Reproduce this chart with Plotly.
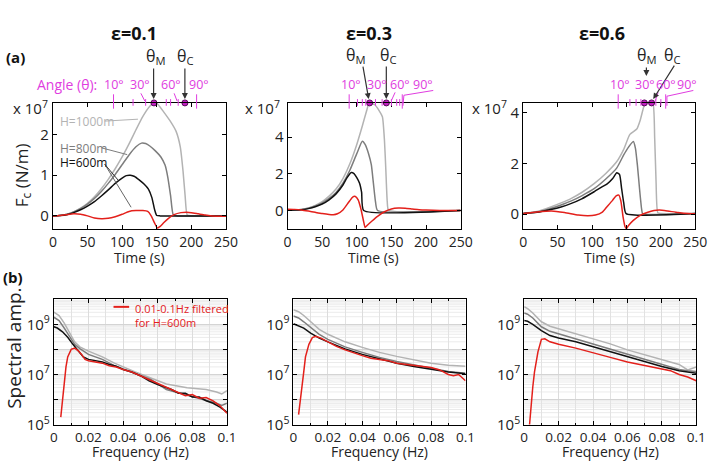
import plotly.graph_objects as go

W, H = 720, 470
def px(x): return x / W
def py(y): return 1 - y / H

FONT = "Open Sans"
LIGHT, MID, BLACK, RED = "#b3b3b3", "#7d7d7d", "#111111", "#e3201b"
MAG = "#e03ce0"

# ---------------- data: (a) force time series, units of 1e7 N/m ----------------
# eps = 0.1
a1_t_1000 = [0,10,20,30,40,50,60,70,80,90,100,110,120,130,140,146,152,160,170,178,184,188,191,194,200,250]
a1_v_1000 = [0,0.01,0.04,0.1,0.19,0.31,0.47,0.67,0.9,1.16,1.45,1.77,2.12,2.45,2.7,2.78,2.74,2.56,2.32,2.08,1.7,1.1,0.5,0.02,0,0]
a1_t_800 = [0,10,20,30,40,50,60,70,80,90,100,110,120,128,134,140,148,156,162,166,170,174,180,250]
a1_v_800 = [0,0.01,0.04,0.1,0.18,0.29,0.43,0.6,0.8,1.02,1.26,1.5,1.7,1.79,1.78,1.72,1.6,1.45,1.25,0.95,0.5,0.02,0,0]
a1_t_600 = [0,10,20,30,40,50,60,70,80,90,100,106,112,118,125,132,138,143,147,150,155,250]
a1_v_600 = [0,0.01,0.03,0.08,0.15,0.24,0.35,0.49,0.64,0.8,0.93,0.99,1.0,0.97,0.88,0.78,0.66,0.45,0.15,0.01,0,0]
a1_t_filt = [0,10,20,30,40,50,60,70,80,90,100,110,120,130,137,142,147,151,155,160,167,175,185,193,200,210,220,230,240,250]
a1_v_filt = [0,0.01,0.03,0.05,0.04,0.0,-0.05,-0.07,-0.06,-0.02,0.04,0.11,0.13,0.13,0.11,0.0,-0.18,-0.3,-0.26,-0.17,-0.06,0.03,0.08,0.09,0.08,0.05,0.02,0.0,-0.01,-0.01]
# eps = 0.3
a2_t_1000 = [0,10,20,30,40,50,60,70,80,90,100,108,114,118,126,132,137,140,142,144,146,250]
a2_v_1000 = [0.03,0.04,0.08,0.16,0.3,0.5,0.8,1.18,1.75,2.55,3.6,4.6,5.4,5.85,5.75,5.45,5.1,3.8,2.2,0.5,0.03,0.03]
a2_t_800 = [0,10,20,30,40,50,60,70,80,90,100,108,112,117,121,124,127,130,250]
a2_v_800 = [0.03,0.04,0.07,0.14,0.26,0.43,0.68,1.0,1.5,2.2,3.1,3.77,3.6,3.1,2.5,1.5,0.5,0.02,0.02]
a2_t_600 = [0,10,20,30,40,50,60,70,80,86,92,96,100,104,107,110,250]
a2_v_600 = [0.03,0.04,0.06,0.12,0.22,0.37,0.6,0.92,1.4,1.8,2.08,2.02,1.8,1.5,1.0,0.02,0.02]
a2_t_filt = [0,10,20,30,40,50,60,66,72,80,88,94,98,102,106,110,112,116,122,130,140,150,160,170,180,190,200,220,250]
a2_v_filt = [0.09,0.08,0.05,-0.01,-0.08,-0.15,-0.2,-0.21,-0.16,0.05,0.45,0.75,0.78,0.6,0.1,-0.6,-0.9,-0.75,-0.55,-0.3,-0.05,0.1,0.15,0.14,0.1,0.06,0.04,0.02,0.02]
# eps = 0.6
a3_t_1000 = [0,20,40,55,70,85,103,120,136,146,155,165,170,176,180,188,191,193,195.5,200,250]
a3_v_1000 = [0.02,0.1,0.28,0.44,0.62,0.85,1.2,1.6,2.07,2.55,3.14,3.35,3.7,4.3,4.45,4.45,3.0,1.3,0.05,0.02,0.02]
a3_t_800 = [0,20,40,55,70,85,103,120,136,146,152,160,163,166,169,172,173.5,250]
a3_v_800 = [0.02,0.08,0.22,0.36,0.52,0.72,1.0,1.38,1.82,2.33,2.6,2.86,2.6,1.9,1.0,0.2,0.02,0.02]
a3_t_600 = [0,20,40,55,70,85,103,115,122,130,136,140,143,146,149.5,250]
a3_v_600 = [0.02,0.07,0.18,0.28,0.42,0.6,0.88,1.08,1.19,1.4,1.63,1.55,1.0,0.45,0.02,0.02]
a3_t_filt = [0,20,41,60,80,94,105,115,122,130,135,139,142,145,148,150,153,160,170,180,190,198,210,225,240,250]
a3_v_filt = [0.02,0.08,0.12,0.06,-0.04,-0.07,-0.04,0.08,0.3,0.55,0.72,0.75,0.5,-0.1,-0.5,-0.57,-0.45,-0.25,-0.05,0.06,0.14,0.16,0.12,0.06,0.02,0.01]

# angle markers (time of theta_M, theta_C) and angle-scale tick times
theta_m = [146, 118.6, 176]
theta_c = [190.7, 142.7, 186.5]
ang_long = [[87.6, 207.6], [89, 165.7], [138, 207]]
ang_short = [[115.8, 134, 163.8, 170, 181], [101, 108, 113, 127, 136.6, 150, 157.7, 162], [155, 164, 171, 192.7, 200]]

# ---------------- data: (b) spectra, log10 amplitude ----------------
b1_f = [0,0.003,0.006,0.009,0.012,0.015,0.02,0.028,0.035,0.047,0.056,0.065,0.077,0.088,0.094,0.097,0.1]
b1_1000 = [9.48,9.35,9.05,8.65,8.3,8.1,7.93,7.7,7.45,7.1,6.85,6.62,6.47,6.4,6.3,6.22,6.35]
b1_800 = [9.28,9.15,8.85,8.5,8.2,8.03,7.8,7.6,7.35,7.04,6.8,6.4,6.18,5.98,5.85,5.76,5.85]
b1_f600 = [0,0.002,0.005,0.008,0.011,0.014,0.017,0.02,0.024,0.028,0.032,0.036,0.04,0.045,0.05,0.055,0.06,0.064,0.068,0.072,0.076,0.08,0.084,0.088,0.092,0.096,0.1]
b1_600 = [8.9,8.85,8.7,8.48,8.2,7.95,7.7,7.6,7.55,7.5,7.4,7.33,7.2,7.1,6.95,6.75,6.6,6.5,6.4,6.25,6.25,6.1,6.1,5.95,5.85,5.7,5.5]
b1_ff = [0.004,0.005,0.006,0.007,0.008,0.01,0.012,0.014,0.016,0.018,0.02,0.024,0.028,0.032,0.036,0.04,0.045,0.05,0.055,0.06,0.064,0.068,0.072,0.076,0.08,0.084,0.088,0.092,0.096,0.1]
b1_filt = [5.3,6.0,6.7,7.3,7.7,8.0,8.05,7.95,7.8,7.6,7.55,7.5,7.45,7.35,7.3,7.2,7.1,6.95,6.8,6.62,6.5,6.38,6.28,6.15,6.2,6.05,6.08,5.95,5.75,5.45]

b2_f = [0,0.003,0.006,0.01,0.015,0.02,0.03,0.04,0.05,0.06,0.07,0.08,0.09,0.1]
b2_1000 = [9.58,9.5,9.35,9.1,8.8,8.6,8.3,8.08,7.88,7.72,7.57,7.45,7.37,7.33]
b2_800 = [9.33,9.25,9.1,8.87,8.6,8.4,8.1,7.88,7.68,7.52,7.37,7.25,7.12,7.05]
b2_600 = [9.02,8.95,8.85,8.65,8.45,8.3,8.02,7.8,7.62,7.45,7.32,7.2,7.1,7.03]
b2_ff = [0.003,0.004,0.005,0.006,0.007,0.009,0.011,0.013,0.016,0.02,0.025,0.03,0.035,0.04,0.045,0.05,0.055,0.06,0.065,0.07,0.075,0.08,0.085,0.09,0.093,0.096,0.1]
b2_filt = [5.4,5.9,6.5,7.1,7.7,8.2,8.47,8.52,8.45,8.3,8.12,7.98,7.85,7.75,7.65,7.6,7.55,7.45,7.4,7.35,7.3,7.28,7.18,7.0,6.95,7.0,6.75]

b3_f = [0,0.002,0.005,0.01,0.015,0.02,0.03,0.04,0.05,0.06,0.07,0.08,0.09,0.095,0.1]
b3_1000 = [9.7,9.62,9.45,9.1,8.92,8.82,8.62,8.45,8.22,7.98,7.78,7.6,7.4,7.18,7.3]
b3_800 = [9.45,9.4,9.25,8.9,8.72,8.62,8.42,8.22,8.0,7.8,7.6,7.42,7.2,7.15,7.12]
b3_600 = [9.15,9.12,9.0,8.75,8.55,8.45,8.3,8.1,7.9,7.7,7.5,7.32,7.15,7.1,7.05]
b3_ff = [0.003,0.004,0.005,0.006,0.008,0.01,0.012,0.015,0.02,0.03,0.04,0.05,0.06,0.07,0.08,0.085,0.09,0.095,0.1]
b3_filt = [4.9,5.8,6.5,7.1,7.9,8.4,8.42,8.3,8.2,8.05,7.88,7.68,7.5,7.35,7.22,7.15,7.0,6.9,6.75]

top_titles = ["ε=0.1", "ε=0.3", "ε=0.6"]
top_yranges = [[-0.33, 2.78], [-1.0, 5.85], [-0.6, 4.38]]
top_yticks = [[0, 1, 2], [0, 2, 4], [0, 2, 4]]
time_ticks = [0, 50, 100, 150, 200, 250]
freq_ticks = [0, 0.02, 0.04, 0.06, 0.08, 0.1]
freq_ticktext = ["0", "0.02", "0.04", "0.06", "0.08", "0.1"]

# ---------------- layout geometry (pixels) ----------------
top_x = [(50, 227), (290, 467), (531, 707)]
top_y = (96, 228)
bot_x = [(51, 228), (296, 472), (532, 708)]
bot_y = (301, 432)

fig = go.Figure()

def line(x, y, color, xa, ya, w=1.5, shape="spline"):
    fig.add_trace(go.Scatter(x=x, y=y, mode="lines", xaxis=xa, yaxis=ya,
                             line=dict(color=color, width=w, shape=shape, smoothing=0.5),
                             showlegend=False, hoverinfo="skip"))

tops = [
    (a1_t_1000, a1_v_1000, a1_t_800, a1_v_800, a1_t_600, a1_v_600, a1_t_filt, a1_v_filt),
    (a2_t_1000, a2_v_1000, a2_t_800, a2_v_800, a2_t_600, a2_v_600, a2_t_filt, a2_v_filt),
    (a3_t_1000, a3_v_1000, a3_t_800, a3_v_800, a3_t_600, a3_v_600, a3_t_filt, a3_v_filt),
]
for i, d in enumerate(tops):
    xa, ya = ("x" if i == 0 else f"x{i+1}"), ("y" if i == 0 else f"y{i+1}")
    line(d[0], d[1], LIGHT, xa, ya)
    line(d[2], d[3], MID, xa, ya)
    line(d[4], d[5], BLACK, xa, ya)
    line(d[6], d[7], RED, xa, ya)
    ytop = top_yranges[i][1]
    fig.add_trace(go.Scatter(x=[theta_m[i], theta_c[i]], y=[ytop, ytop], mode="markers",
                             xaxis=xa, yaxis=ya, cliponaxis=False,
                             marker=dict(size=6, color="#c21fc2", line=dict(color="#5a0a5a", width=1)),
                             showlegend=False, hoverinfo="skip"))

bots = [
    (b1_f, b1_1000, b1_f, b1_800, b1_f600, b1_600, b1_ff, b1_filt),
    (b2_f, b2_1000, b2_f, b2_800, b2_f, b2_600, b2_ff, b2_filt),
    (b3_f, b3_1000, b3_f, b3_800, b3_f, b3_600, b3_ff, b3_filt),
]
for i, d in enumerate(bots):
    xa, ya = f"x{i+4}", f"y{i+4}"
    line(d[0], [10 ** v for v in d[1]], LIGHT, xa, ya, shape="linear")
    line(d[2], [10 ** v for v in d[3]], MID, xa, ya, shape="linear")
    line(d[4], [10 ** v for v in d[5]], BLACK, xa, ya, shape="linear")
    line(d[6], [10 ** v for v in d[7]], RED, xa, ya, shape="linear")

axis_common = dict(showline=True, linecolor="black", linewidth=1, mirror="ticks", ticks="inside",
                   ticklen=4, tickcolor="black", zeroline=False,
                   tickfont=dict(size=15, family=FONT, color="#222"))
lay = {}
for i in range(3):
    xk = "xaxis" if i == 0 else f"xaxis{i+1}"
    yk = "yaxis" if i == 0 else f"yaxis{i+1}"
    xa = "x" if i == 0 else f"x{i+1}"
    ya = "y" if i == 0 else f"y{i+1}"
    lay[xk] = dict(axis_common, domain=[px(top_x[i][0]), px(top_x[i][1])], anchor=ya,
                   range=[0, 250], tickvals=time_ticks, showgrid=False,
                   tickfont=dict(size=14, family=FONT, color="#222"))
    lay[yk] = dict(axis_common, domain=[py(top_y[1]), py(top_y[0])], anchor=xa,
                   range=top_yranges[i], tickvals=top_yticks[i], showgrid=False)
    xk2, yk2 = f"xaxis{i+4}", f"yaxis{i+4}"
    lay[xk2] = dict(axis_common, domain=[px(bot_x[i][0]), px(bot_x[i][1])], anchor=f"y{i+4}",
                    range=[0, 0.1], tickvals=freq_ticks, ticktext=freq_ticktext,
                    tickfont=dict(size=13.5, family=FONT, color="#222"),
                    showgrid=True, gridcolor="#dcdcdc", gridwidth=1,
                    minor=dict(dtick=0.01, tick0=0, showgrid=True, gridcolor="#e2e2e2", ticks="inside", ticklen=2, tickcolor="black"))
    lay[yk2] = dict(axis_common, domain=[py(bot_y[1]), py(bot_y[0])], anchor=f"x{i+4}",
                    type="log", range=[5, 10],
                    tickvals=[1e5, 1e6, 1e7, 1e8, 1e9, 1e10],
                    ticktext=["10<sup>5</sup>", " ", "10<sup>7</sup>", " ", "10<sup>9</sup>", " "],
                    showgrid=True, gridcolor="#d4d4d4", gridwidth=1)

shapes = []
# minor log gridlines for spectra
for i in range(3):
    for e in range(5, 10):
        for k in range(2, 10):
            shapes.append(dict(type="line", xref=f"x{i+4} domain", yref=f"y{i+4}", x0=0, x1=1,
                               y0=k * 10 ** e, y1=k * 10 ** e, line=dict(color="#ebebeb", width=1), layer="below"))

# angle scale ticks
for i in range(3):
    xa = "x" if i == 0 else f"x{i+1}"
    for t in ang_long[i]:
        shapes.append(dict(type="line", xref=xa, yref="paper", x0=t, x1=t, y0=py(87), y1=py(102),
                           line=dict(color=MAG, width=1)))
    for t in ang_short[i]:
        shapes.append(dict(type="line", xref=xa, yref="paper", x0=t, x1=t, y0=py(92), y1=py(99),
                           line=dict(color=MAG, width=1)))

# leader lines (pixel coords)
def seg(x0, y0, x1, y1, color, w=1):
    shapes.append(dict(type="line", xref="paper", yref="paper", x0=px(x0), y0=py(y0), x1=px(x1), y1=py(y1),
                       line=dict(color=color, width=w)))

seg(140, 86, 144, 94, MAG); seg(174, 86, 177, 94, MAG)
seg(400, 85, 396, 94, MAG); seg(439, 83, 409, 88, MAG); seg(409, 88, 408, 99, MAG)
seg(669, 85, 666, 94, MAG); seg(705, 83, 678, 89, MAG); seg(678, 89, 678, 99, MAG)
# H labels leaders
seg(103, 115, 137, 113, LIGHT); seg(100, 143, 126, 150, MID)
seg(103, 160, 117, 177, "#333"); seg(103, 160, 130, 205, "#666")
# legend line
seg(112, 309, 128, 309, RED, 2)

ann = []
def text(x, y, s, size=15, color="#222", bold=False, angle=0, xanchor="center", family=FONT, yanchor="middle"):
    if bold:
        s = f"<b>{s}</b>"
    ann.append(dict(x=px(x), y=py(y), xref="paper", yref="paper", text=s, showarrow=False,
                    font=dict(size=size, color=color, family=family), xanchor=xanchor, yanchor=yanchor,
                    textangle=angle, align="left"))

def arrow(x0, y0, x1, y1):
    ann.append(dict(x=px(x1), y=py(y1), xref="paper", yref="paper", ax=x0 - x1, ay=y0 - y1,
                    axref="pixel", ayref="pixel", text="", showarrow=True, arrowhead=2, arrowsize=1,
                    arrowwidth=1.2, arrowcolor="#333"))

for cx, s in zip([133, 373, 612], top_titles):
    text(cx, 23, s, size=18, bold=True, color="#111")
text(12, 48, "(a)", size=15, bold=True, color="#111")
text(9, 278, "(b)", size=15, bold=True, color="#111")

# theta labels + arrows
text(155, 48, "θ<sub>M</sub>", size=16); text(186, 48, "θ<sub>C</sub>", size=16)
arrow(153, 60, 153, 92); arrow(185, 60, 185, 92)
text(360, 47, "θ<sub>M</sub>", size=16); text(393, 47, "θ<sub>C</sub>", size=16)
arrow(367, 58, 373, 92); arrow(391, 58, 391, 92)
text(658, 47, "θ<sub>M</sub>", size=16); text(684, 47, "θ<sub>C</sub>", size=16)
arrow(657, 58, 657, 68); arrow(686, 57, 664, 92)

# angle labels
text(64, 77, "Angle (θ):", size=14, color=MAG)
for xs in [[113, 139, 171, 199], [355, 381, 405, 429], [630, 656, 677, 699]]:
    for x, l in zip(xs, ["10°", "30°", "60°", "90°"]):
        text(x, 77, l, size=12.5, color=MAG)

# H labels
text(55, 115, "H=1000m", size=12, color=LIGHT, xanchor="left")
text(55, 144, "H=800m", size=12, color=MID, xanchor="left")
text(55, 158, "H=600m", size=12, color="#111", xanchor="left")

# x10^7
for x in [27, 264, 497]:
    text(x, 101, "x 10<sup>7</sup>", size=15)

# axis titles
text(19, 172, "F<sub>c</sub> (N/m)", size=17, angle=-90)
text(10, 352, "Spectral amp.", size=19, angle=-90)
for cx in [139, 378, 619]:
    text(cx, 257, "Time (s)", size=14)
for cx in [140, 384, 620]:
    text(cx, 460, "Frequency (Hz)", size=14)

# legend
text(132, 301, "0.01-0.1Hz filtered<br>for H=600m", size=11, color=RED, xanchor="left", yanchor="top")

fig.update_layout(width=W, height=H, margin=dict(l=0, r=0, t=0, b=0), autosize=False,
                  paper_bgcolor="white", plot_bgcolor="white", showlegend=False,
                  shapes=shapes, annotations=ann, **lay)
fig.write_html("out.html")
